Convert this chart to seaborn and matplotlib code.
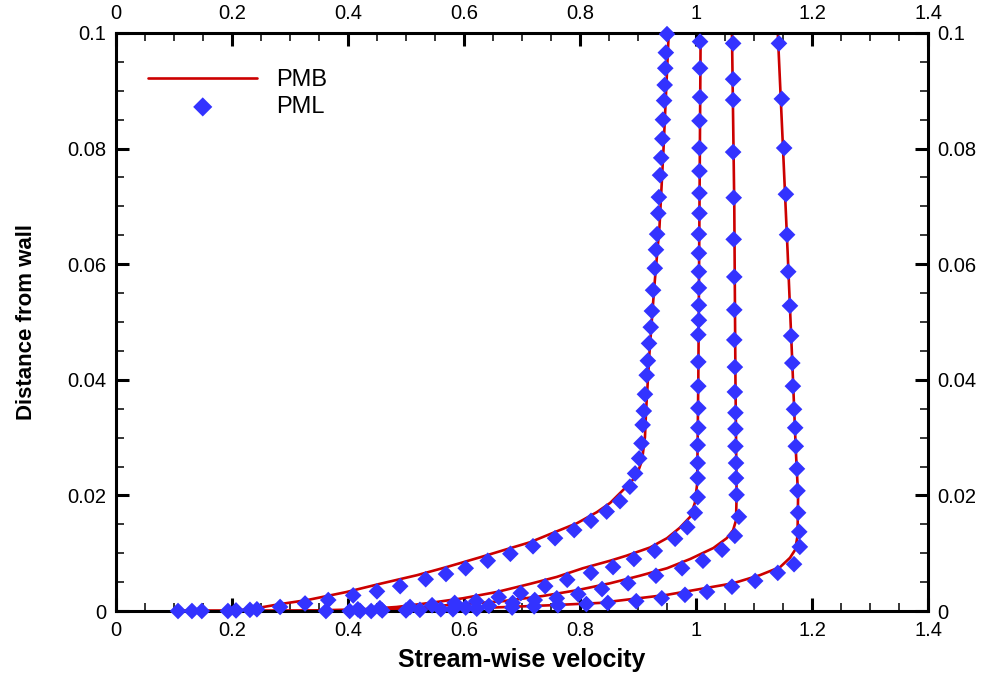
import numpy as np
import pandas as pd
import matplotlib
matplotlib.use("Agg")
import matplotlib.pyplot as plt
import seaborn as sns
from matplotlib.ticker import MultipleLocator

sns.set_theme(style="white")
plt.rcParams["font.family"] = ["Liberation Sans", "DejaVu Sans"]
plt.rcParams["text.color"] = "black"
plt.rcParams["axes.labelcolor"] = "black"
plt.rcParams["xtick.color"] = "black"
plt.rcParams["ytick.color"] = "black"

# ---- PMB profiles (solid lines): stream-wise velocity vs distance from wall ----
pmb_u1 = [0.10, 0.20, 0.243, 0.283, 0.330, 0.369, 0.398, 0.455, 0.519, 0.570, 0.628, 0.674, 0.714,
          0.753, 0.795, 0.829, 0.852, 0.869, 0.885, 0.898, 0.907, 0.912, 0.914, 0.920, 0.928, 0.937,
          0.944, 0.953]
pmb_y1 = [0.0, 0.0, 0.0005, 0.0012, 0.0019, 0.0027, 0.0033, 0.0047, 0.0062, 0.0076, 0.0093, 0.0107, 0.0119,
          0.0135, 0.0152, 0.0171, 0.0187, 0.0204, 0.0220, 0.0235, 0.0261, 0.0301, 0.0348, 0.0450, 0.0560, 0.0664,
          0.0800, 0.1000]

pmb_u2 = [0.10, 0.30, 0.426, 0.484, 0.541, 0.598, 0.657, 0.714, 0.760, 0.805, 0.852, 0.881, 0.921,
          0.950, 0.972, 0.990, 0.998, 1.002, 1.004, 1.006, 1.008]
pmb_y2 = [0.0, 0.0, 0.0003, 0.0007, 0.0014, 0.0022, 0.0033, 0.0047, 0.0059, 0.0074, 0.0087, 0.0096, 0.0110,
          0.0126, 0.0144, 0.0163, 0.0187, 0.0220, 0.0400, 0.0700, 0.1000]

pmb_u3 = [0.10, 0.40, 0.529, 0.598, 0.667, 0.736, 0.795, 0.852, 0.903, 0.950, 0.990, 1.030, 1.053,
          1.064, 1.069, 1.070, 1.068, 1.066, 1.062]
pmb_y3 = [0.0, 0.0, 0.0007, 0.0012, 0.0017, 0.0026, 0.0036, 0.0048, 0.0061, 0.0074, 0.0090, 0.0109, 0.0126,
          0.0140, 0.0157, 0.0200, 0.0400, 0.0700, 0.1000]

pmb_u4 = [0.10, 0.40, 0.50, 0.65, 0.75, 0.834, 0.892, 0.950, 1.007, 1.064, 1.110, 1.145, 1.162, 1.171,
          1.175, 1.176, 1.172, 1.166, 1.158, 1.150, 1.141]
pmb_y4 = [0.0, 0.0001, 0.0003, 0.0006, 0.0010, 0.0014, 0.0021, 0.0028, 0.0038, 0.0048, 0.0062, 0.0076,
          0.0092, 0.0106, 0.0130, 0.0200, 0.0280, 0.0430, 0.0620, 0.0800, 0.1000]

# ---- PML profiles (diamond markers) ----
pml_u1 = [0.107, 0.131, 0.148, 0.193, 0.207, 0.231, 0.243, 0.283, 0.326, 0.366, 0.409, 0.450, 0.490,
          0.534, 0.569, 0.603, 0.641, 0.680, 0.719, 0.757, 0.790, 0.819, 0.846, 0.869, 0.886, 0.895,
          0.902, 0.906, 0.908, 0.910, 0.912, 0.915, 0.917, 0.919, 0.922, 0.924, 0.926, 0.929, 0.931,
          0.933, 0.935, 0.936, 0.938, 0.940, 0.942, 0.943, 0.945, 0.946, 0.947, 0.948, 0.950]
pml_y1 = [0.0, 0.0, 0.0, 0.0, 0.0001, 0.0002, 0.0003, 0.0007, 0.0013, 0.0019, 0.0027, 0.0034, 0.0043,
          0.0055, 0.0064, 0.0074, 0.0087, 0.0099, 0.0112, 0.0126, 0.0140, 0.0156, 0.0172, 0.0190, 0.0215,
          0.0238, 0.0264, 0.0290, 0.0322, 0.0346, 0.0375, 0.0408, 0.0433, 0.0463, 0.0491, 0.0519, 0.0555,
          0.0593, 0.0625, 0.0652, 0.0688, 0.0716, 0.0754, 0.0784, 0.0817, 0.0850, 0.0883, 0.0910, 0.0939,
          0.0966, 0.0998]

pml_u2 = [0.362, 0.417, 0.455, 0.507, 0.545, 0.584, 0.621, 0.660, 0.698, 0.740, 0.778, 0.819, 0.857,
          0.893, 0.929, 0.964, 0.985, 0.998, 1.003, 1.003, 1.003, 1.003, 1.004, 1.004, 1.004, 1.004,
          1.004, 1.005, 1.005, 1.005, 1.005, 1.005, 1.005, 1.006, 1.006, 1.006, 1.006, 1.006, 1.007,
          1.007, 1.007]
pml_y2 = [0.0, 0.0003, 0.0005, 0.0007, 0.0010, 0.0014, 0.0017, 0.0024, 0.0031, 0.0043, 0.0054, 0.0066,
          0.0076, 0.0090, 0.0104, 0.0125, 0.0145, 0.0170, 0.0197, 0.0230, 0.0256, 0.0287, 0.0317, 0.0351,
          0.0389, 0.0431, 0.0478, 0.0503, 0.0529, 0.0559, 0.0587, 0.0619, 0.0652, 0.0688, 0.0723, 0.0761,
          0.0801, 0.0848, 0.0889, 0.0939, 0.0985]

pml_u3 = [0.403, 0.440, 0.500, 0.560, 0.603, 0.643, 0.684, 0.722, 0.760, 0.797, 0.838, 0.883, 0.931,
          0.976, 1.012, 1.045, 1.067, 1.074, 1.070, 1.069, 1.069, 1.068, 1.068, 1.068, 1.067, 1.067,
          1.066, 1.066, 1.066, 1.065, 1.065, 1.064, 1.064, 1.064, 1.064]
pml_y3 = [0.0, 0.0, 0.0001, 0.0003, 0.0006, 0.0009, 0.0014, 0.0019, 0.0022, 0.0029, 0.0038, 0.0048,
          0.0061, 0.0074, 0.0087, 0.0106, 0.0130, 0.0163, 0.0201, 0.0230, 0.0256, 0.0285, 0.0315, 0.0343,
          0.0379, 0.0422, 0.0469, 0.0521, 0.0578, 0.0643, 0.0715, 0.0794, 0.0884, 0.0920, 0.0982]

pml_u4 = [0.421, 0.459, 0.524, 0.581, 0.622, 0.683, 0.721, 0.762, 0.811, 0.848, 0.897, 0.941, 0.981,
          1.019, 1.062, 1.102, 1.141, 1.169, 1.179, 1.178, 1.176, 1.175, 1.174, 1.172, 1.171, 1.169,
          1.167, 1.166, 1.164, 1.162, 1.159, 1.157, 1.155, 1.152, 1.148, 1.143]
pml_y4 = [0.0, 0.0001, 0.0002, 0.0003, 0.0004, 0.0006, 0.0008, 0.0010, 0.0012, 0.0014, 0.0017, 0.0022,
          0.0028, 0.0033, 0.0042, 0.0052, 0.0066, 0.0081, 0.0111, 0.0137, 0.0170, 0.0208, 0.0246, 0.0285,
          0.0317, 0.0349, 0.0389, 0.0429, 0.0476, 0.0528, 0.0587, 0.0651, 0.0721, 0.0801, 0.0886, 0.0982]

pmb = [(pmb_u1, pmb_y1), (pmb_u2, pmb_y2), (pmb_u3, pmb_y3), (pmb_u4, pmb_y4)]
pml = [(pml_u1, pml_y1), (pml_u2, pml_y2), (pml_u3, pml_y3), (pml_u4, pml_y4)]

line_color = "#cc0000"
marker_color = "#3333ff"

fig = plt.figure(figsize=(9.86, 6.73), dpi=100)
ax = fig.add_axes([0.1176, 0.0921, 0.8236, 0.8589])

for i, (u, y) in enumerate(pmb):
    df = pd.DataFrame({"u": u, "y": y})
    sns.lineplot(data=df, x="u", y="y", sort=False, estimator=None, color=line_color,
                 linewidth=1.9, ax=ax, label="PMB" if i == 0 else None, zorder=2)

for i, (u, y) in enumerate(pml):
    df = pd.DataFrame({"u": u, "y": y})
    sns.scatterplot(data=df, x="u", y="y", marker="D", s=72, color=marker_color,
                    edgecolor="none", linewidth=0, ax=ax, label="PML" if i == 0 else None,
                    zorder=3, clip_on=False)

ax.set_xlim(0, 1.4)
ax.set_ylim(0, 0.1)
ax.xaxis.set_major_locator(MultipleLocator(0.2))
ax.xaxis.set_minor_locator(MultipleLocator(0.05))
ax.yaxis.set_major_locator(MultipleLocator(0.02))
ax.yaxis.set_minor_locator(MultipleLocator(0.005))

def fmt(v, _):
    s = f"{v:.2f}".rstrip("0").rstrip(".")
    return "0" if s in ("-0", "") else s

ax.xaxis.set_major_formatter(plt.FuncFormatter(fmt))
ax.yaxis.set_major_formatter(plt.FuncFormatter(fmt))

ax.tick_params(which="both", direction="in", top=True, right=True, bottom=True, left=True,
               labeltop=True, labelright=True, colors="black")
ax.tick_params(which="major", length=9.5, width=2.2, labelsize=14.5, pad=7)
ax.tick_params(which="minor", length=5.5, width=1.1)
for sp in ax.spines.values():
    sp.set_linewidth(2.2)
    sp.set_color("black")

ax.set_xlabel("Stream-wise velocity", fontsize=18, fontweight="bold", labelpad=6)
ax.set_ylabel("Distance from wall", fontsize=16, fontweight="bold", labelpad=22)

leg = ax.legend(loc="upper left", bbox_to_anchor=(0.04, 0.937), frameon=False, fontsize=17,
                handlelength=4.6, handletextpad=0.8, labelspacing=0.2, borderpad=0,
                borderaxespad=0, markerscale=1.15)

fig.savefig("out.png", dpi=100)
